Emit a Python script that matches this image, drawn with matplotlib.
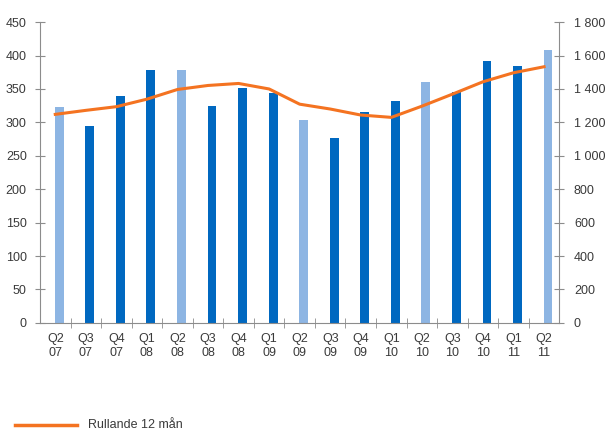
import matplotlib.pyplot as plt
import matplotlib.ticker as mticker
import numpy as np

plt.rcParams['font.family'] = ['Liberation Sans', 'DejaVu Sans']

quarters = ['Q2\n07', 'Q3\n07', 'Q4\n07', 'Q1\n08', 'Q2\n08', 'Q3\n08', 'Q4\n08', 'Q1\n09',
            'Q2\n09', 'Q3\n09', 'Q4\n09', 'Q1\n10', 'Q2\n10', 'Q3\n10', 'Q4\n10', 'Q1\n11', 'Q2\n11']
quarter_values = [323, 295, 340, 379, 379, 325, 352, 344, 304, 277, 315, 332, 361, 345, 392, 384, 408]
rolling_12m = [1248, 1272, 1294, 1339, 1397, 1421, 1433, 1400, 1309, 1280, 1244, 1230, 1297,
               1369, 1443, 1497, 1533]
# Q2 bars are drawn light
highlight = [q.startswith('Q2') for q in quarters]

dark = '#0068c0'
light = '#8db5e3'
orange = '#f47321'
grey = '#8c8c8c'
txt = '#3a3a3a'
fs = 9

fig = plt.figure(figsize=(6.06, 4.34), dpi=100)
ax = fig.add_axes([0.066, 0.256, 0.857, 0.693])
x = np.arange(len(quarters))
colors = [light if h else dark for h in highlight]
ax.bar(x + 0.13, quarter_values, width=0.29, color=colors, zorder=2)

ax.set_xlim(-0.5, len(quarters) - 0.5)
ax.set_ylim(0, 450)
ax.set_yticks(np.arange(0, 451, 50))
ax.set_xticks(x)
ax.set_xticklabels(quarters, linespacing=1.25)
ax.set_xticks(np.arange(0.5, len(quarters) - 1, 1), minor=True)
ax.tick_params(axis='x', which='major', length=0, pad=7, labelsize=fs, labelcolor=txt)
ax.tick_params(axis='x', which='minor', length=7, direction='inout', color=grey)
ax.tick_params(axis='y', length=7, direction='inout', color=grey, labelsize=fs,
               labelcolor=txt, pad=6)
ax.spines['top'].set_visible(False)
ax.spines['right'].set_visible(False)
for s in ['left', 'bottom']:
    ax.spines[s].set_color(grey)

ax2 = ax.twinx()
ax2.plot(x, rolling_12m, color=orange, lw=2.2, zorder=3, solid_joinstyle='round')
ax2.set_ylim(0, 1800)
ax2.set_yticks(np.arange(0, 1801, 200))
ax2.yaxis.set_major_formatter(mticker.FuncFormatter(lambda v, p: '{:,.0f}'.format(v).replace(',', ' ')))
ax2.tick_params(axis='y', length=7, direction='inout', color=grey, labelsize=fs,
                labelcolor=txt, pad=7)
ax2.spines['top'].set_visible(False)
ax2.spines['left'].set_visible(False)
ax2.spines['bottom'].set_visible(False)
ax2.spines['right'].set_color(grey)

# legend below the chart
fig.lines.append(plt.Line2D([15 / 606, 77 / 606], [1 - 425 / 434] * 2, color=orange, lw=2.5,
                            transform=fig.transFigure))
fig.text(88 / 606, 1 - 425 / 434, 'Rullande 12 mån', fontsize=fs, color=txt, va='center')

fig.savefig('out.png', dpi=100)
